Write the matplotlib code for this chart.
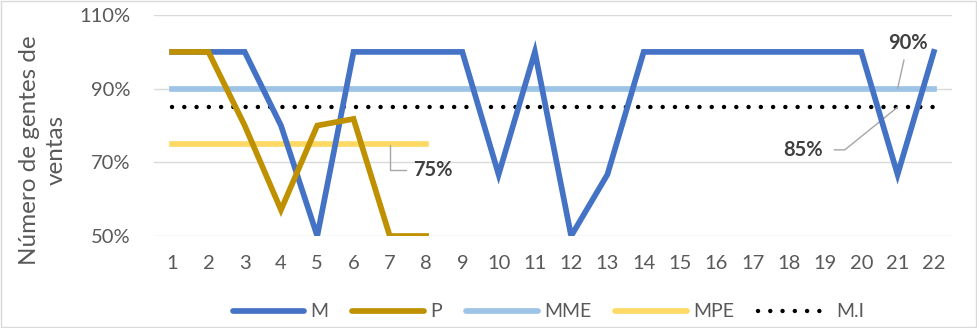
import matplotlib.pyplot as plt
from matplotlib.patches import Rectangle

# datos del gráfico
dias = list(range(1, 23))
m_vals = [100, 100, 100, 80, 50, 100, 100, 100, 100, 66.7, 100,
          50, 66.7, 100, 100, 100, 100, 100, 100, 100, 66.7, 100]
dias_p = list(range(1, 9))
p_vals = [100, 100, 80, 57.1, 80, 81.8, 50, 50]
mme = [90] * 22
mpe = [75] * 8
mi = [85] * 22

plt.rcParams['font.family'] = ['Lato', 'DejaVu Sans']
gris = '#595959'

fig = plt.figure(figsize=(9.78, 3.28), dpi=100)
ax = fig.add_axes([0.1575, 0.2805, 0.8159, 0.6735])

ax.plot(dias, m_vals, color='#4472C4', lw=4.1, label='M', solid_joinstyle='miter', zorder=4)
ax.plot(dias_p, p_vals, color='#BF9000', lw=4.1, label='P', solid_joinstyle='miter', zorder=4)
ax.plot(dias, mme, color='#9DC3E6', lw=4.1, label='MME', zorder=3)
ax.plot(dias_p, mpe, color='#FFD966', lw=4.1, label='MPE', zorder=3)
ax.plot(dias, mi, color='black', lw=3.2, linestyle=(0, (0.01, 2.75)),
        dash_capstyle='round', label='M.I', zorder=3)

ax.set_xlim(0.5, 22.5)
ax.set_ylim(50, 110)
ax.set_yticks([50, 70, 90, 110])
ax.set_yticklabels(['50%', '70%', '90%', '110%'])
ax.set_xticks(dias)
ax.grid(axis='y', color='#d9d9d9', lw=1)
ax.set_axisbelow(True)
for s in ax.spines.values():
    s.set_visible(False)
ax.tick_params(axis='x', length=0, labelsize=14.5, labelcolor=gris, pad=14)
ax.tick_params(axis='y', length=0, labelsize=14.5, labelcolor=gris, pad=17)
ax.set_ylabel('Número de gentes de\nventas', fontsize=17.5, color=gris,
              linespacing=1.35, va='center')
ax.yaxis.set_label_coords(-0.139, 0.389)

# etiquetas de datos
ax.annotate('75%', xy=(7, 75), xytext=(7.65, 68.0), fontsize=14.5, fontweight='bold', color='#404040',
            va='center', ha='left',
            arrowprops=dict(arrowstyle='-', color='#a6a6a6', lw=1,
                            connectionstyle='angle,angleA=0,angleB=90,rad=0',
                            shrinkA=3, shrinkB=1))
ax.annotate('85%', xy=(21, 85), xytext=(18.4, 73.4), fontsize=14.5, fontweight='bold', color='#404040',
            va='center', ha='center',
            arrowprops=dict(arrowstyle='-', color='#a6a6a6', lw=1,
                            connectionstyle='angle,angleA=0,angleB=39,rad=0',
                            shrinkA=6, shrinkB=0))
ax.annotate('90%', xy=(21, 90), xytext=(21.28, 102.4), fontsize=14.5, fontweight='bold', color='#404040',
            va='center', ha='center',
            arrowprops=dict(arrowstyle='-', color='#a6a6a6', lw=1, shrinkA=3, shrinkB=0))

leg = fig.legend(loc='center', bbox_to_anchor=(0.5605, 0.049), ncol=5, frameon=False,
                 fontsize=14, handlelength=3.7, columnspacing=1.24, handletextpad=0.3)
for t in leg.get_texts():
    t.set_color(gris)
for h in leg.get_lines():
    h.set_solid_capstyle('round')

fig.patches.append(Rectangle((0.001, 0.002), 0.997, 0.995, transform=fig.transFigure,
                             fill=False, ec='#d9d9d9', lw=1))

fig.savefig('out.png', dpi=100)
